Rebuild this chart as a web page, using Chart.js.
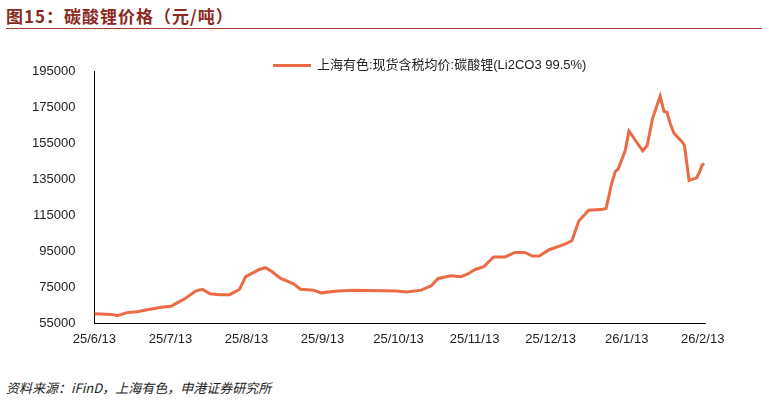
<!DOCTYPE html>
<html><head><meta charset="utf-8">
<script src="https://cdn.jsdelivr.net/npm/chart.js@4"></script>
<style>
body{margin:0;width:762px;height:402px;background:#fff;font-family:"Noto Sans CJK SC",sans-serif;position:relative;overflow:hidden}
#title{position:absolute;left:6px;top:3px;font-size:17px;font-weight:bold;color:#8b2a1e;letter-spacing:1px}
#rule{position:absolute;left:6px;right:0;top:28px;border-top:1.5px solid #a0402e}
#src{position:absolute;left:6px;top:378px;font-size:13px;font-style:italic;color:#222}
#wrap{position:absolute;left:0;top:50px;width:762px;height:300px}
#leg{position:absolute;left:273px;top:54px;font-size:13px;color:#222;font-family:"Liberation Sans","Noto Sans CJK SC",sans-serif;background:#fff;z-index:2}
#leg span{display:inline-block;width:38px;height:3px;background:#ec6b45;vertical-align:middle;margin-right:6px}
</style></head><body>
<div id="title">图15：碳酸锂价格（元/吨）</div>
<div id="rule"></div>
<div id="wrap"><canvas id="c" width="762" height="300"></canvas></div>
<div id="leg"><span></span>上海有色:现货含税均价:碳酸锂(Li2CO3 99.5%)</div>
<div id="src">资料来源：iFinD，上海有色，申港证券研究所</div>
<script>
const tickLabels = ["25/6/13","25/7/13","25/8/13","25/9/13","25/10/13","25/11/13","25/12/13","26/1/13","26/2/13"];
// 横轴位置（以月为单位，自 25/6/13 起）
const monthPos = [0,0.23,0.30,0.43,0.56,0.68,0.88,1.01,1.07,1.20,1.33,1.42,1.52,1.65,1.78,1.91,1.99,2.17,2.25,2.33,2.45,2.62,2.71,2.88,2.98,3.20,3.40,3.97,4.11,4.30,4.43,4.52,4.69,4.82,4.91,5.01,5.12,5.25,5.40,5.53,5.66,5.76,5.85,5.98,6.18,6.28,6.37,6.50,6.69,6.73,6.80,6.85,6.89,6.98,7.03,7.08,7.21,7.27,7.34,7.44,7.49,7.53,7.57,7.62,7.73,7.76,7.82,7.92,7.96,7.99,8.02];
const prices = [60400,60000,59300,61000,61500,62500,64000,64500,66000,69000,73000,74000,71500,71000,71000,74000,81000,85000,86000,84000,80000,77000,74000,73500,72000,73000,73500,73000,72500,73500,76000,80000,81500,81000,82500,85000,86500,92000,92000,94500,94500,92500,92500,96000,99000,101000,112000,118000,118500,119000,132500,139500,141000,151000,162000,159000,151000,154000,169000,181500,173000,172500,166500,161000,156000,154000,134500,136000,139500,143000,144000];
const yTicks = [55000,75000,95000,115000,135000,155000,175000,195000];

new Chart(document.getElementById("c"), {
  type: "line",
  data: {
    datasets: [{
      label: "上海有色:现货含税均价:碳酸锂(Li2CO3 99.5%)",
      data: monthPos.map((m, i) => ({ x: m, y: prices[i] })),
      borderColor: "#ec6b45",
      borderWidth: 3,
      pointRadius: 0,
      tension: 0
    }]
  },
  options: {
    responsive: false,
    animation: false,
    layout: { padding: { left: 18, right: 57, top: 8, bottom: 0 } },
    plugins: { legend: { display: false }, tooltip: { enabled: false } },
    scales: {
      x: {
        type: "linear", min: 0, max: 8.03,
        afterBuildTicks: a => { a.ticks = tickLabels.map((_, i) => ({ value: i })); },
        ticks: { callback: (v) => tickLabels[v], color: "#222", font: { size: 13, family: "Liberation Sans" }, maxRotation: 0, autoSkip: false },
        grid: { display: false, drawTicks: true, tickLength: 5, color: "#000" },
        border: { color: "#000" }
      },
      y: {
        min: 55000, max: 195000,
        afterBuildTicks: a => { a.ticks = yTicks.map(v => ({ value: v })); },
        ticks: { callback: v => String(v), color: "#222", font: { size: 13, family: "Liberation Sans" }, padding: 14 },
        grid: { display: false, tickLength: 5 },
        border: { color: "#000" }
      }
    }
  }
});
</script>
</body></html>
